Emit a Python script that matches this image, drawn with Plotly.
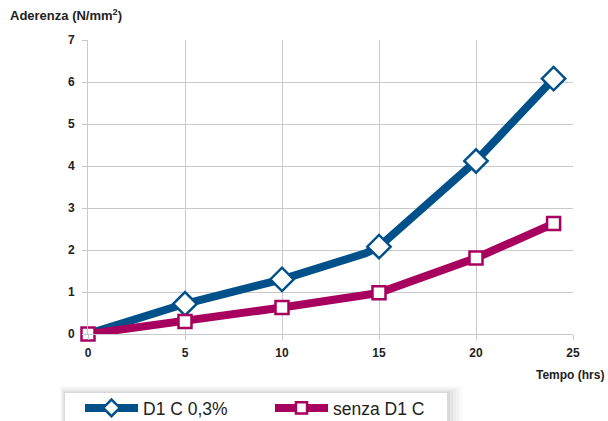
import plotly.graph_objects as go

hours = [0, 5, 10, 14.3, 15, 20, 24]
d1c = [0, 0.72, 1.3, 1.92, 2.08, 4.12, 6.08]
senza = [0, 0.3, 0.63, 0.93, 0.98, 1.81, 2.63]
d1c_marker = [False, True, True, False, True, True, True]
senza_marker = [True, True, True, False, True, True, True]

blue = "#00508a"
magenta = "#a8005f"

def sizes(flags, s):
    return [s if m else 0 for m in flags]

fig = go.Figure()
fig.add_trace(go.Scatter(
    x=hours, y=d1c, name="D1 C 0,3%", mode="lines+markers", cliponaxis=False,
    line=dict(color=blue, width=8),
    marker=dict(symbol="diamond", size=sizes(d1c_marker, 18), color="white", opacity=1,
                line=dict(color=blue, width=2.5)),
))
fig.add_trace(go.Scatter(
    x=hours, y=senza, name="senza D1 C", mode="lines+markers", cliponaxis=False,
    line=dict(color=magenta, width=8),
    marker=dict(symbol="square", size=sizes(senza_marker, 13), color="white", opacity=1,
                line=dict(color=magenta, width=2.5)),
))

grid = "#c9c9cc"
FONT = "Liberation Sans, Arial"

L, R, T, B = 88, 573, 40, 334
PW, PH = R - L, B - T

def px(xp):
    return (xp - L) / PW

def py(yp):
    return (B - yp) / PH

# legend box with soft shadow
shadow_cols = ["#f9f9f9", "#f3f3f3", "#ececec", "#e3e3e3", "#d9d9d9"]
for i, c in enumerate(shadow_cols):
    k = len(shadow_cols) - i
    fig.add_shape(type="rect", xref="paper", yref="paper",
                  x0=px(65 - k * 1.0), x1=px(447 + k * 3),
                  y0=py(440), y1=py(393 - k * 1.3),
                  fillcolor=c, line=dict(width=0), layer="above")
fig.add_shape(type="rect", xref="paper", yref="paper",
              x0=px(65), x1=px(447), y0=py(440), y1=py(393),
              fillcolor="white", line=dict(width=0), layer="above")

fig.update_layout(
    width=608, height=421,
    margin=dict(l=L, r=608 - R, t=T, b=421 - B, autoexpand=False),
    paper_bgcolor="white", plot_bgcolor="white",
    font=dict(family=FONT, color="#222222"),
    showlegend=True,
    legend=dict(orientation="h", x=px(80), y=py(390),
                xanchor="left", yanchor="top",
                bgcolor="rgba(0,0,0,0)", borderwidth=0,
                font=dict(size=17.5, family=FONT, color="#222222"),
                entrywidth=122, itemwidth=53,
                traceorder="normal"),
    xaxis=dict(range=[0, 25], tickvals=[0, 5, 10, 15, 20, 25],
               showgrid=True, gridcolor=grid, gridwidth=1,
               showline=True, linecolor=grid, linewidth=1, mirror=False,
               ticks="outside", ticklen=5, tickcolor=grid, ticklabelstandoff=3,
               tickfont=dict(family=FONT, size=12, color="#222222", weight="bold"),
               zeroline=False, fixedrange=True),
    yaxis=dict(range=[0, 7], tickvals=list(range(0, 8)),
               showgrid=True, gridcolor=grid, gridwidth=1,
               showline=True, linecolor=grid, linewidth=1,
               ticks="outside", ticklen=5, tickcolor=grid, ticklabelstandoff=5,
               tickfont=dict(family=FONT, size=12, color="#222222", weight="bold"),
               zeroline=False, fixedrange=True),
    annotations=[
        dict(text="<b>Aderenza (N/mm<sup>2</sup>)</b>", xref="paper", yref="paper",
             x=px(8), y=py(15), xanchor="left", yanchor="middle",
             showarrow=False, font=dict(size=13, family=FONT, color="#222222")),
        dict(text="<b>Tempo (hrs)</b>", xref="paper", yref="paper",
             x=px(606), y=py(375), xanchor="right", yanchor="middle",
             showarrow=False, font=dict(size=12, family=FONT, color="#222222")),
    ],
)

fig.write_html("out.html", config={"displayModeBar": False},
               post_script="document.body.style.margin='0';document.body.style.overflow='hidden';")
